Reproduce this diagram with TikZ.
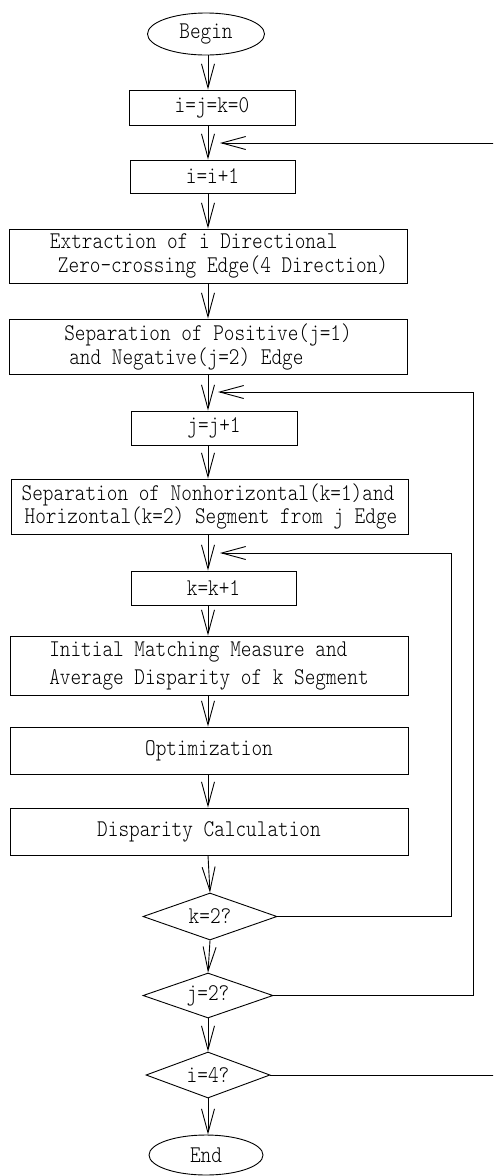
\documentclass[tikz,border=0pt]{standalone}
\usepackage{fontspec}
\setmainfont{lmmonolt10-regular.otf}[FakeStretch=0.845]
\usetikzlibrary{arrows.meta,shapes.geometric}
\begin{document}
\begin{tikzpicture}[x=1pt,y=-1pt,
  every node/.style={font=\fontsize{24}{24}\selectfont},
  box/.style={draw,line width=0.9pt,rectangle,inner sep=0pt},
  term/.style={draw,line width=0.9pt,ellipse,inner sep=0pt},
  test/.style={draw,line width=0.9pt,diamond,inner sep=0pt,aspect=2.8},
  flow/.style={line width=0.9pt,-{Straight Barb[length=24pt,width=13pt]}},
]
\useasboundingbox (0,0) rectangle (493,1176);
\clip (0,0) rectangle (493,1176);

% main axis of the flow and the columns of the loop-back lines
\coordinate (ax) at (208,0);
\coordinate (kloop) at (451,0);
\coordinate (jloop) at (473,0);
\coordinate (iloop) at (498,0);

% entry points of the loop-back arrows
\coordinate (iin) at (220,143);
\coordinate (jin) at (218,392);
\coordinate (kin) at (220,553);

\node[term, minimum width=117pt, minimum height=42pt] (begin) at (206,34) {Begin};
\node[box, minimum width=166pt, minimum height=35pt] (init) at (212,107.5) {i=j=k=0};
\node[box, minimum width=165pt, minimum height=33pt] (inci) at (212.5,176.5) {i=i+1};
\node[box, minimum width=398pt, minimum height=54pt, align=left] (extr) at (208,256)
  {\hspace*{22pt}Extraction of i Directional\\\hspace*{30pt}Zero-crossing Edge(4 Direction)};
\node[box, minimum width=398pt, minimum height=55pt, align=left] (sign) at (208,346.5)
  {Separation of Positive(j=1)\\\hspace*{5pt}and Negative(j=2) Edge};
\node[box, minimum width=166pt, minimum height=34pt] (incj) at (214,428) {j=j+1};
\node[box, minimum width=397pt, minimum height=55pt, align=left,
  font=\fontsize{24}{17}\selectfont] (segm) at (209.5,506.5)
  {Separation of Nonhorizontal(k=1)and\\\hspace*{3pt}Horizontal(k=2) Segment from j Edge};
\node[box, minimum width=165pt, minimum height=34pt] (inck) at (213.5,588) {k=k+1};
\node[box, minimum width=398pt, minimum height=59pt, align=left,
  font=\fontsize{24}{28}\selectfont] (match) at (209,665.5)
  {Initial Matching Measure and\\Average Disparity of k Segment};
\node[box, minimum width=398pt, minimum height=47pt] (optim) at (209,750.5) {Optimization};
\node[box, minimum width=398pt, minimum height=47pt] (disp) at (209,831.5) {Disparity Calculation};
\node[test, minimum width=134pt, minimum height=47pt] (k2) at (210,916.5) {k=2?};
\node[test, minimum width=130pt, minimum height=45pt] (j2) at (208,995.5) {j=2?};
\node[test, minimum width=124pt, minimum height=46pt] (i4) at (208,1075) {i=4?};
\node[term, minimum width=114pt, minimum height=40pt] (end) at (206,1155) {End};

% straight-down flow
\draw[flow] (begin.south -| ax) -- (init.north -| ax);
\draw[flow] (init.south -| ax) -- (inci.north -| ax);
\draw[flow] (inci.south -| ax) -- (extr.north -| ax);
\draw[flow] (extr.south -| ax) -- (sign.north -| ax);
\draw[flow] (sign.south -| ax) -- (incj.north -| ax);
\draw[flow] (incj.south -| ax) -- (segm.north -| ax);
\draw[flow] (segm.south -| ax) -- (inck.north -| ax);
\draw[flow] (inck.south -| ax) -- (match.north -| ax);
\draw[flow] (match.south -| ax) -- (optim.north -| ax);
\draw[flow] (optim.south -| ax) -- (disp.north -| ax);
\draw[flow] (disp.south -| ax) -- (k2.north);
\draw[flow] (k2.south) -- (j2.north);
\draw[flow] (j2.south) -- (i4.north);
\draw[flow] (i4.south) -- (end.north -| i4.south);

% loop-back lines
\draw[flow] (k2.east) -- (k2.east -| kloop) -- (kin -| kloop) -- (kin);
\draw[flow] (j2.east) -- (j2.east -| jloop) -- (jin -| jloop) -- (jin);
\draw[flow] (i4.east) -- (i4.east -| iloop) -- (iin -| iloop) -- (iin);
\end{tikzpicture}
\end{document}
